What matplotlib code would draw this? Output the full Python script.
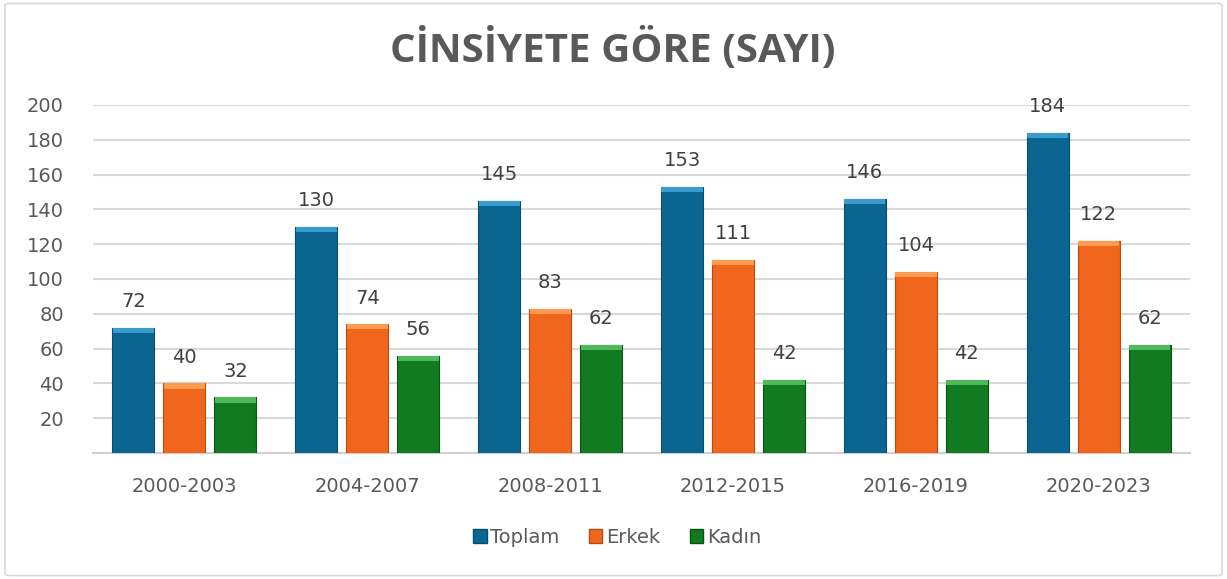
import matplotlib
matplotlib.use('agg')
import matplotlib.pyplot as plt
from matplotlib.patches import Patch, FancyBboxPatch
import numpy as np

periods = ['2000-2003', '2004-2007', '2008-2011', '2012-2015', '2016-2019', '2020-2023']
toplam = [72, 130, 145, 153, 146, 184]
erkek = [40, 74, 83, 111, 104, 122]
kadin = [32, 56, 62, 42, 42, 62]
series_names = ['Toplam', 'Erkek', 'Kadın']
y_ticks = [20, 40, 60, 80, 100, 120, 140, 160, 180, 200]

colors = ['#0a6690', '#f0661c', '#127a20']
tops = ['#3a9ccc', '#ff9a50', '#4fb85a']
edges = ['#064c6c', '#b84a10', '#0b5514']
text_gray = '#595959'

plt.rcParams['font.family'] = ['DejaVu Sans']


def main():
    fig = plt.figure(figsize=(12.27, 5.79), dpi=100)
    ax = fig.add_axes([0.0758, 0.2176, 0.8942, 0.6011])

    x = np.arange(len(periods))
    width = 0.23
    offset = 0.279
    for i, vals in enumerate([toplam, erkek, kadin]):
        pos = x + (i - 1) * offset
        ax.bar(pos, vals, width, color=colors[i], edgecolor=edges[i],
               linewidth=0.8, zorder=3)
        # light bevel along the top of each bar
        ax.bar(pos, [3] * len(vals), width * 0.98, bottom=np.array(vals) - 3,
               color=tops[i], linewidth=0, zorder=4)
        for p, v in zip(pos, vals):
            ax.annotate(str(v), (p, v), xytext=(0, 12), textcoords='offset points',
                        ha='center', va='bottom', fontsize=14, color='#404040')

    ax.set_ylim(0, 200)
    ax.set_xlim(-0.5, len(periods) - 0.5)
    ax.set_yticks(y_ticks)
    ax.set_xticks(x)
    ax.set_xticklabels(periods)
    ax.tick_params(axis='both', length=0, labelsize=14, labelcolor=text_gray)
    ax.tick_params(axis='x', pad=17)
    ax.tick_params(axis='y', pad=21)
    ax.yaxis.grid(True, color='#d9d9d9', linewidth=1.5, zorder=0)
    for s in ['left', 'right', 'top']:
        ax.spines[s].set_visible(False)
    ax.spines['bottom'].set_color('#d0d0d0')
    ax.spines['bottom'].set_linewidth(1.5)

    fig.text(0.499, 0.915, 'CİNSİYETE GÖRE (SAYI)', ha='center', va='center',
             fontsize=29, fontweight='bold', color=text_gray, family='Open Sans')

    handles = [Patch(facecolor=colors[i], edgecolor=edges[i]) for i in range(3)]
    fig.legend(handles, series_names, loc='center', bbox_to_anchor=(0.503, 0.072),
               ncol=3, frameon=False, fontsize=14, handlelength=0.7, handleheight=0.7,
               handletextpad=0.2, columnspacing=1.5, labelcolor=text_gray)

    border = FancyBboxPatch((0.004, 0.006), 0.992, 0.988, transform=fig.transFigure,
                            boxstyle='round,pad=0,rounding_size=0.004',
                            facecolor='none', edgecolor='#d9d9d9', linewidth=1.2)
    fig.patches.append(border)

    fig.savefig('out.png', dpi=100)


if __name__ == '__main__':
    main()
